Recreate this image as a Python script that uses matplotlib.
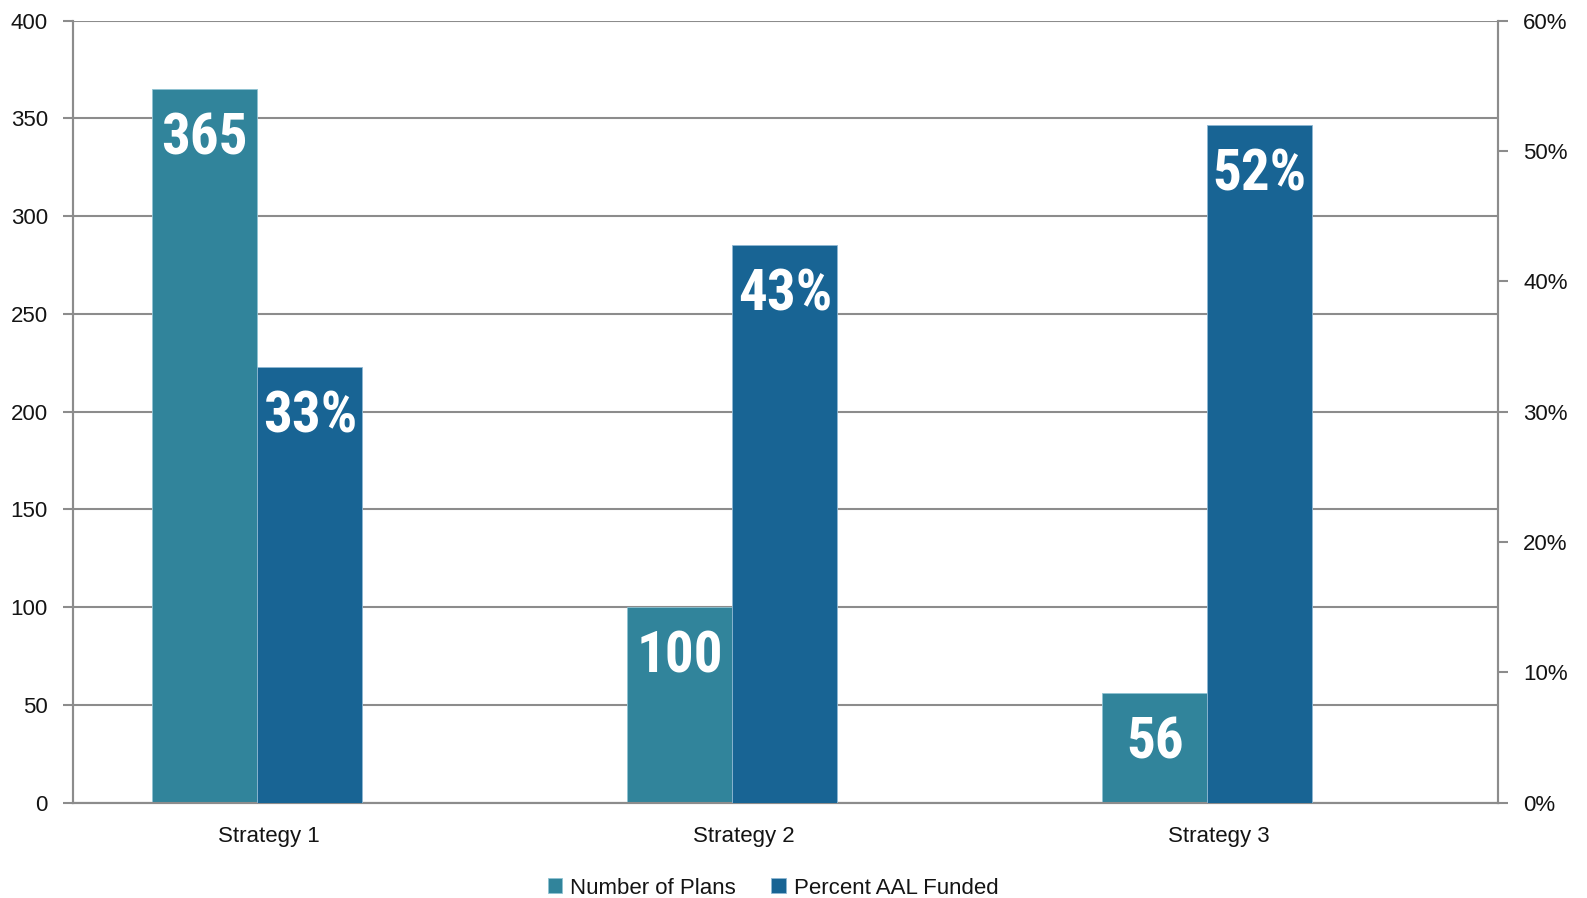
import matplotlib
matplotlib.use("Agg")
import matplotlib.pyplot as plt
import numpy as np

categories = ["Strategy 1", "Strategy 2", "Strategy 3"]
num_plans = [365, 100, 56]
pct_funded = [0.334, 0.428, 0.52]
left_ticks = [0, 50, 100, 150, 200, 250, 300, 350, 400]
right_ticks = [0.0, 0.1, 0.2, 0.3, 0.4, 0.5, 0.6]

C_PLANS = "#31849B"
C_PCT = "#186494"
GRID = "#8C8C8C"
TXT = "#141414"

plt.rcParams['font.family'] = ['Liberation Sans', 'DejaVu Sans']

fig = plt.figure(figsize=(15.87, 8.98), dpi=100)
ax = fig.add_axes([73/1587, 1-802.7/898, (1498-73)/1587, (802.7-20.7)/898])
ax2 = ax.twinx()

x = np.arange(len(categories))
w = 105/475.0

b1 = ax.bar(x - w/2, num_plans, width=w, color=C_PLANS, edgecolor="#8FC3D3", linewidth=0.6, zorder=3,
            label="Number of Plans")
b2 = ax2.bar(x + w/2, pct_funded, width=w, color=C_PCT, edgecolor="#8FB8D3", linewidth=0.6, zorder=3,
             label="Percent AAL Funded")

ax.set_ylim(0, 400)
ax2.set_ylim(0, 0.6)
ax.set_xlim((73-257.3)/475, (1498-257.3)/475)

ax.set_yticks(left_ticks)
ax.set_yticklabels([str(v) for v in left_ticks])
ax2.set_yticks(right_ticks)
ax2.set_yticklabels([f"{int(round(v*100))}%" for v in right_ticks])

ax.set_xticks(x + 12/475)
ax.set_xticklabels(categories)

ax.grid(axis='y', color=GRID, linewidth=1.5, zorder=0)
ax.set_axisbelow(True)
ax2.grid(False)

for a in (ax, ax2):
    for s in a.spines.values():
        s.set_color(GRID)
        s.set_linewidth(1.5)
    a.spines['top'].set_visible(False)

ax.tick_params(axis='y', length=7, width=1.5, color=GRID, pad=11, labelsize=16, labelcolor=TXT)
ax2.tick_params(axis='y', length=7, width=1.5, color=GRID, pad=11, labelsize=16, labelcolor=TXT)
ax.tick_params(axis='x', length=0, pad=17, labelsize=16, labelcolor=TXT)

lab_font = dict(family=['Liberation Sans Narrow', 'Roboto Condensed', 'Liberation Sans', 'DejaVu Sans'],
                fontsize=41, fontweight='bold', color='white')

for xi, v in zip(x, num_plans):
    ax.annotate(str(v), xy=(xi - w/2, v), xytext=(0, -36), textcoords='offset points',
                ha='center', va='center', zorder=5, **lab_font)
for xi, v in zip(x, pct_funded):
    ax2.annotate(f"{int(round(v*100))}%", xy=(xi + w/2, v), xytext=(0, -36), textcoords='offset points',
                 ha='center', va='center', zorder=5, **lab_font)

fig.legend(handles=[b1, b2], labels=["Number of Plans", "Percent AAL Funded"],
           loc='center', bbox_to_anchor=(773/1587, 1-888/898), ncol=2, frameon=False,
           fontsize=16, handlelength=0.65, handleheight=0.65, handletextpad=0.35,
           columnspacing=1.6, labelcolor=TXT)

fig.savefig("out.png", dpi=100, facecolor="white")
